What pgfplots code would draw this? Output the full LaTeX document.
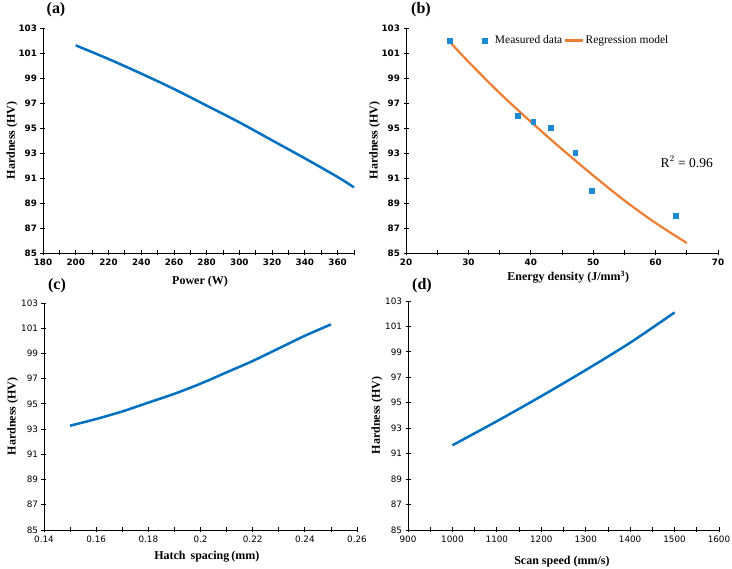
\documentclass[border=0pt]{standalone}
\usepackage{fontspec}
\setmainfont{Liberation Serif}
\newfontfamily\ticksf{DejaVu Sans}
\usepackage{pgfplots}
\pgfplotsset{compat=1.18}
\definecolor{lineblue}{RGB}{0,112,192}
\definecolor{regorange}{RGB}{237,125,49}
\definecolor{ptblue}{RGB}{28,138,208}
\pgfplotsset{
  hard/.style={
    scale only axis, anchor=south west,
    axis x line*=bottom, axis y line*=left,
    axis line style={-, line width=0.9pt, black},
    ymin=85, ymax=103, ytick={85,87,...,103},
    tick align=center, major tick length=5pt, minor tick length=5pt,
    every tick/.style={black, line width=0.8pt},
    /pgf/number format/assume math mode=true,
    /pgf/number format/1000 sep={},
    ylabel={\bfseries Hardness (HV)},
    label style={font=\fontsize{12}{12}\selectfont},
    ylabel style={at={(axis description cs:-0.1,0.5)}, anchor=center},
    clip=false,
  },
  boldticks/.style={tick label style={font=\ticksf\bfseries\fontsize{8.8}{10}\selectfont}},
  normticks/.style={tick label style={font=\ticksf\fontsize{8.8}{10}\selectfont}},
  markleg/.style={legend image code/.code={\path[draw=none,fill=none] (-0.1cm,0cm) rectangle (0.3cm,0.01cm);
    \draw[##1] plot coordinates {(0cm,0cm)};}},
}
\begin{document}
\begin{tikzpicture}
\useasboundingbox (0,0) rectangle (732pt,569pt);
% (a)
\begin{axis}[hard, boldticks, at={(43pt,316pt)}, width=311pt, height=225pt,
  xmin=180, xmax=370, xtick={180,200,...,360}, minor xtick={190,210,...,370},
  xlabel={\bfseries Power (W)},
  xlabel style={at={(axis description cs:0.505,-0.129)}, anchor=center}]
\addplot[lineblue, line width=2.5pt, smooth] coordinates {
(200,101.61) (220,100.52) (240,99.35) (260,98.12) (280,96.79) (300,95.45)
(320,94.01) (340,92.57) (360,91.08) (370,90.25)};
\end{axis}
% (b)
\begin{axis}[hard, boldticks, at={(406pt,316pt)}, width=312pt, height=225pt,
  xmin=20, xmax=70, xtick={20,30,...,70}, minor xtick={25,35,...,65},
  xlabel={\bfseries Energy density (J/mm$^{\mathbf{3}}$)},
  xlabel style={at={(axis description cs:0.52,-0.107)}, anchor=center},
  legend style={at={(axis cs:31.6,102)}, anchor=west, draw=none, fill=none,
    legend columns=2, font=\fontsize{11.5}{11.5}\selectfont,
    /tikz/every even column/.style={column sep=0pt}},
  legend cell align=left]
\addplot[only marks, mark=square*, mark size=2.3pt, color=ptblue, markleg] coordinates {
(27,102) (37.9,96) (40.4,95.5) (43.2,95) (47.1,93) (49.8,90) (63.2,88)};
\addlegendentry{Measured data}
\addplot[regorange, line width=2.2pt, smooth] coordinates {
(27,101.9) (30,100.3) (35,97.8) (40,95.5) (45,93.3) (50,91.2) (55,89.2) (60,87.4) (65,85.8)};
\addlegendentry{Regression model}
\node[font=\fontsize{13.5}{14}\selectfont] at (axis cs:65,92.3) {R$^{2}$ = 0.96};
\end{axis}
% (c)
\begin{axis}[hard, normticks, at={(44pt,39pt)}, width=313pt, height=227pt,
  xmin=0.14, xmax=0.26, xtick={0.14,0.16,0.18,0.20,0.22,0.24,0.26},
  xticklabels={0.14,0.16,0.18,0.2,0.22,0.24,0.26},
  minor xtick={0.15,0.17,0.19,0.21,0.23,0.25},
  xlabel={\bfseries Hatch\, spacing\,(mm)},
  xlabel style={at={(axis description cs:0.52,-0.119)}, anchor=center}]
\addplot[lineblue, line width=2.5pt, smooth] coordinates {
(0.15,93.27) (0.16,93.8) (0.17,94.4) (0.18,95.1) (0.19,95.8) (0.20,96.6)
(0.21,97.5) (0.22,98.4) (0.23,99.4) (0.24,100.4) (0.25,101.3)};
\end{axis}
% (d)
\begin{axis}[hard, normticks, at={(408pt,39pt)}, width=311pt, height=229pt,
  xmin=900, xmax=1600, xtick={900,1000,...,1600}, minor xtick={950,1050,...,1550},
  xlabel={\bfseries Scan speed (mm/s)},
  xlabel style={at={(axis description cs:0.495,-0.14)}, anchor=center}]
\addplot[lineblue, line width=2.5pt, smooth] coordinates {
(1000,91.66) (1100,93.55) (1200,95.52) (1300,97.57) (1400,99.72) (1500,102.1)};
\end{axis}
\node[font=\bfseries\fontsize{16}{16}\selectfont] at (56pt,559pt) {(a)};
\node[font=\bfseries\fontsize{16}{16}\selectfont] at (421pt,559pt) {(b)};
\node[font=\bfseries\fontsize{16}{16}\selectfont] at (57pt,283pt) {(c)};
\node[font=\bfseries\fontsize{16}{16}\selectfont] at (422pt,283pt) {(d)};
\end{tikzpicture}
\end{document}
